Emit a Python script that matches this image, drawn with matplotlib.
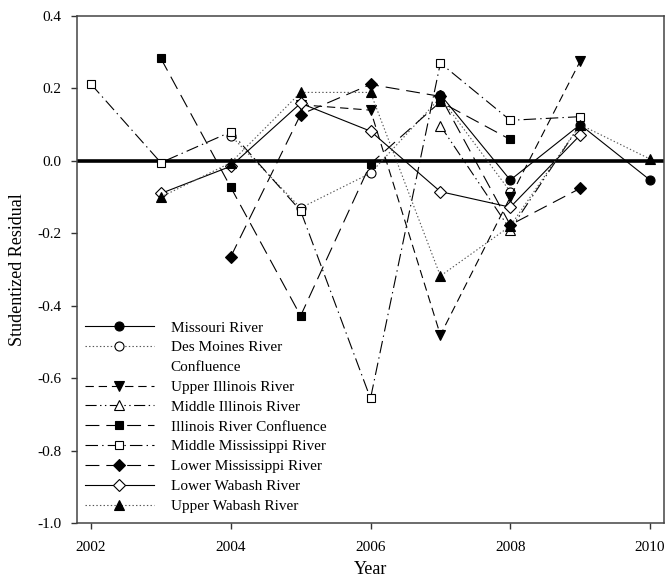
import numpy as np
import matplotlib
matplotlib.use("Agg")
import matplotlib.pyplot as plt
from matplotlib.lines import Line2D

plt.rcParams['font.family'] = ['Liberation Serif', 'DejaVu Serif']
plt.rcParams['lines.scale_dashes'] = False

nan = np.nan
years = [2002, 2003, 2004, 2005, 2006, 2007, 2008, 2009, 2010]

# residuals, one list per river reach
missouri = [nan, nan, nan, nan, nan, 0.183, -0.053, 0.100, -0.053]
des_moines = [nan, nan, 0.070, -0.130, -0.034, 0.175, -0.085, nan, nan]
upper_illinois = [nan, nan, nan, 0.155, 0.140, -0.481, -0.100, 0.275, nan]
middle_illinois = [nan, nan, nan, nan, nan, 0.097, -0.190, 0.100, nan]
illinois_conf = [nan, 0.283, -0.073, -0.428, -0.008, 0.163, 0.059, nan, nan]
middle_miss = [0.212, -0.005, 0.080, -0.138, -0.656, 0.270, 0.112, 0.122, nan]
lower_miss = [nan, nan, -0.265, 0.128, 0.211, 0.178, -0.177, -0.076, nan]
lower_wabash = [nan, -0.090, -0.015, 0.159, 0.082, -0.085, -0.128, 0.071, nan]
upper_wabash = [nan, -0.100, -0.005, 0.189, 0.189, -0.318, -0.180, 0.100, 0.005]

labels = ["Missouri River", "Des Moines River", "Upper Illinois River",
          "Middle Illinois River", "Illinois River Confluence", "Middle Mississippi River",
          "Lower Mississippi River", "Lower Wabash River", "Upper Wabash River"]

series = [missouri, des_moines, upper_illinois, middle_illinois, illinois_conf,
          middle_miss, lower_miss, lower_wabash, upper_wabash]
markers = ['o', 'o', 'v', '^', 's', 's', 'D', 'D', '^']
fills = ['black', 'white', 'black', 'white', 'black', 'white', 'black', 'white', 'black']
styles = ['-', (0, (1, 1.6)), (0, (6, 3.5)), (0, (8, 2.5, 1, 2.5, 1, 2.5)),
          (0, (10, 5)), (0, (9, 3, 1, 3)), (0, (10, 5)), '-', (0, (1, 1.6))]
line_colors = ['black', '#555555', 'black', 'black', 'black', 'black', 'black', 'black', '#555555']
msizes = [6.5, 6.5, 6.5, 6.5, 5.8, 5.8, 5.8, 5.8, 6.5]
zorders = [4, 3, 5, 6, 7, 8, 9, 10, 11]

fig = plt.figure(figsize=(6.68, 5.85), dpi=100)
ax = fig.add_axes([77 / 668, 62 / 585, 587 / 668, 507 / 585])

ax.axhline(0, color='black', lw=2.6, zorder=2)

handles = []
for vals, lab, m, fc, ls, lc, ms, z in zip(series, labels, markers, fills, styles,
                                             line_colors, msizes, zorders):
    h, = ax.plot(years, vals, linestyle=ls, color=lc, lw=0.8, marker=m, markersize=ms,
                 markerfacecolor=fc, markeredgecolor='black', markeredgewidth=0.8,
                 label=lab, zorder=z)
    handles.append(h)

# second line of the Des Moines label, as in the original legend
blank = Line2D([], [], linestyle='none', marker=None)
leg_handles = handles[:2] + [blank] + handles[2:]
leg_labels = labels[:2] + ["Confluence"] + labels[2:]

ax.set_xlim(2001.8, 2010.2)
ax.set_ylim(-1.0, 0.4)
ax.set_xticks([2002, 2004, 2006, 2008, 2010])
yt = [0.4, 0.2, 0.0, -0.2, -0.4, -0.6, -0.8, -1.0]
ax.set_yticks(yt)
ax.set_yticklabels(["%.1f" % v for v in yt])
ax.tick_params(direction='out', length=4, width=1, colors='#333333', labelcolor='black',
               labelsize=11)
ax.tick_params(axis='x', pad=9)
ax.tick_params(axis='y', pad=7)
for s in ax.spines.values():
    s.set_color('#444444')
    s.set_linewidth(1.1)

ax.set_xlabel("Year", fontsize=13, labelpad=5)
ax.set_ylabel("Studentized Residual", fontsize=13, labelpad=8)

leg = ax.legend(leg_handles, leg_labels, loc='lower left', bbox_to_anchor=(0.0136, 0.02),
                frameon=False, fontsize=11, handlelength=4.5, handletextpad=1.1,
                labelspacing=0.4, borderpad=0, borderaxespad=0)

fig.savefig("out.png", dpi=100)
